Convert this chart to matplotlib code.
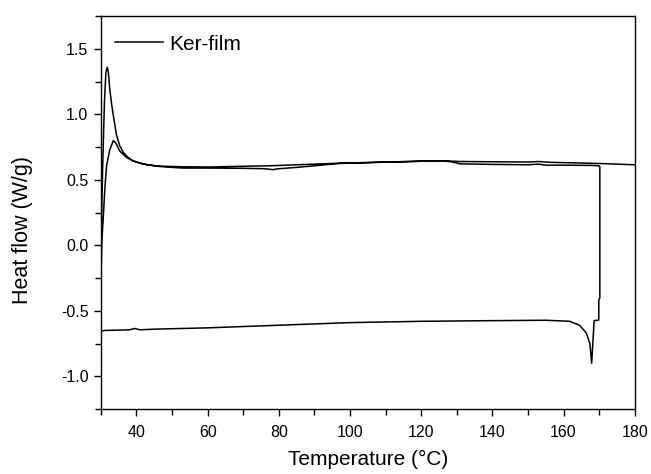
import matplotlib
matplotlib.use("Agg")
import matplotlib.pyplot as plt
from matplotlib.ticker import MultipleLocator

plt.rcParams['font.family'] = ['Liberation Sans', 'DejaVu Sans']
plt.rcParams['axes.unicode_minus'] = False

# first heating (with the start-up spike), up to 170 C
heat1_T = [30.1, 30.5, 31.0, 31.4, 31.8, 32.1, 32.5, 33.0, 33.5, 34.4, 35.3, 36.3,
           37.5, 39, 41, 43, 46, 50, 53, 60, 70, 76, 78.3, 80, 85, 97, 110, 125,
           128, 131, 140, 150, 153, 155, 160, 168, 169.9, 170.2]
heat1_HF = [0.1, 0.6, 1.1, 1.32, 1.36, 1.32, 1.19, 1.08, 0.99, 0.84, 0.76, 0.71,
            0.675, 0.645, 0.627, 0.615, 0.603, 0.595, 0.59, 0.59, 0.588, 0.585, 0.578, 0.585, 0.595, 0.625, 0.635, 0.645,
            0.64, 0.622, 0.618, 0.615, 0.62, 0.612, 0.612, 0.61, 0.608, 0.60]

# cooling from 170 back to 30 C
cool_T = [170.2, 169.9, 169.9, 168.6, 167.9, 167.4, 166.4, 164.5, 161.7, 155, 140,
          120, 100, 80, 60, 45, 41, 39.5, 38, 31, 30.0]
cool_HF = [-0.40, -0.42, -0.57, -0.575, -0.90, -0.75, -0.67, -0.61, -0.58, -0.572, -0.575,
           -0.58, -0.59, -0.61, -0.63, -0.64, -0.645, -0.635, -0.645, -0.65, -0.655]

# second heating, up to 180 C
heat2_T = [30.05, 30.3, 30.6, 31.1, 31.6, 32.5, 33.5, 34.2, 35.3, 37.2, 39, 42, 46,
           53, 60, 78, 97, 125, 131, 150, 153, 156, 170, 180]
heat2_HF = [-0.2, 0.05, 0.18, 0.43, 0.61, 0.73, 0.80, 0.78, 0.72, 0.67, 0.645, 0.62, 0.605,
            0.60, 0.598, 0.608, 0.627, 0.646, 0.64, 0.636, 0.64, 0.634, 0.625, 0.615]

T = heat1_T + cool_T + heat2_T
HF = heat1_HF + cool_HF + heat2_HF

fig = plt.figure(figsize=(6.51, 4.74), dpi=100)
ax = fig.add_axes([0.155, 0.137, 0.82, 0.829])

ax.plot(T, HF, color='black', lw=1.1, label='Ker-film')

ax.set_xlim(30, 180)
ax.set_ylim(-1.25, 1.75)
ax.set_xticks([40, 60, 80, 100, 120, 140, 160, 180])
ax.xaxis.set_minor_locator(MultipleLocator(10))
ax.set_yticks([-1.0, -0.5, 0.0, 0.5, 1.0, 1.5])
ax.yaxis.set_minor_locator(MultipleLocator(0.25))
ax.tick_params(which='major', direction='out', length=5, width=1.0, labelsize=11.5)
ax.tick_params(which='minor', direction='out', length=4, width=1.0)
ax.tick_params(axis='x', which='major', pad=6.5)
ax.tick_params(axis='y', which='major', pad=4)
for s in ax.spines.values():
    s.set_linewidth(1.0)

ax.set_xlabel('Temperature (°C)', fontsize=15, labelpad=7)
ax.set_ylabel('Heat flow (W/g)', fontsize=15.5)
ax.yaxis.set_label_coords(-0.128, 0.455)

ax.legend(loc='upper left', frameon=False, fontsize=15, handlelength=2.3,
          handletextpad=0.3, bbox_to_anchor=(0.0, 0.99), borderaxespad=0.3)

fig.savefig('out.png', dpi=100)
